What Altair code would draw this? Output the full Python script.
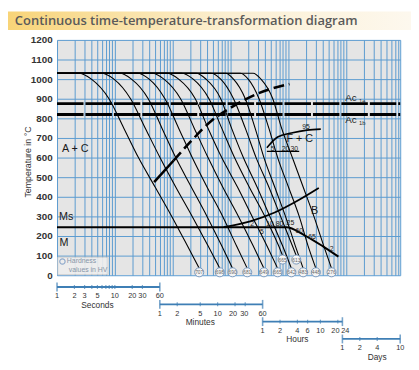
import altair as alt
import pandas as pd

TITLE = "Continuous time-temperature-transformation diagram"

# ---------------- cooling curves (time in s at each temperature step) -------------
curve_temps = [1030, 1030, 1000, 900, 750, 600, 450, 300, 150]
curve_end_temps = [35, 35, 35, 35, 35, 35, 100, 35, 100, 35, 35, 35]
curve_times = [
    [1, 2.36, 3.93, 7.92, 14.3, 25.6, 49.7, 96.5, 180, 288],
    [1, 5.80, 9.64, 18.7, 33.6, 60.4, 113, 218, 409, 654],
    [1, 12.2, 19.4, 37.8, 65.3, 113, 210, 393, 706, 1086],
    [1, 24.6, 39.3, 73.5, 127, 218, 393, 734, 1271, 1952],
    [1, 44.2, 70.6, 137, 236, 409, 734, 1375, 2468, 3794],
    [1, 79.4, 127, 246, 409, 706, 1322, 2373, 4266, 6554],
    [1, 142, 227, 425, 706, 1175, 2112, 3944, 6816, 7970],
    [1, 256, 378, 679, 1044, 1671, 2886, 4794, 7970, 11320],
    [1, 459, 679, 1130, 1805, 2775, 4614, 7367, 11780, 13760],
    [1, 826, 1130, 1805, 2668, 3794, 5826, 8954, 13230, 18100],
    [1, 1485, 2031, 3122, 4614, 6554, 10070, 15470, 21980, 30040],
    [1, 2468, 3373, 5393, 7662, 11780, 18100, 27770, 41030, 56100],
]
hardness = [707, 698, 690, 681, 649, 665, 665, 642, 613, 483, 448, 276]

# ---------------- transformation lines ----------------
ac_temps = [875, 820]
ms_t = [1, 9300, 18800, 41000, 73700]
ms_T = [245, 245, 205, 145, 95]
bs_t = [764, 2194, 5826, 15470, 33760]
bs_T = [245, 275, 320, 385, 445]
cs_t = [47.8, 104]
cs_T = [475, 585]
cd_t = [104, 210, 459, 1086, 2886, 10470]
cd_T = [585, 685, 785, 860, 925, 975]
fc_t = [4266, 6554, 11320, 21140, 36500]
fc_T = [650, 705, 725, 740, 745]
fcb_t = [4266, 15470]
fcb_T = [632, 632]

# ---------------- annotations ----------------
big_text = ["A + C", "Ms", "M", "F + C", "B"]
big_t = [1.22, 1.08, 1.1, 9300, 24700]
big_T = [645, 295, 165, 696, 325]
ac_text = ["Ac", "Ac"]
ac_t = [96900, 96900]
ac_T = [902, 790]
ac_sub = ["1e", "1b"]
ac_sub_t = [168000, 168000]
ac_sub_T = [886, 774]
small_text = ["95", "5", "20", "30", "2", "5", "10", "80", "25", "60", "65", "2"]
small_t = [20300, 5390, 8954, 12720, 2370, 3510, 4790, 7080, 10900, 15500, 25700, 56100]
small_T = [755, 644, 644, 644, 262, 222, 262, 262, 265, 225, 195, 135]

legend_lines = ["Hardness", "values in HV"]
legend_t = [1.48, 1.6]
legend_T = [70, 25]

# ---------------- grid ----------------
grid_temps = list(range(0, 1201, 100))
grid_times = [m * 10 ** k for k in range(6) for m in range(1, 10) if m * 10 ** k < 864000] + [864000]

# ---------------- time scales below ----------------
units = ["Seconds", "Minutes", "Hours", "Days"]
unit_seconds = [1, 60, 3600, 86400]
unit_ticks = [
    [1, 2, 3, 4, 5, 6, 7, 8, 9, 10, 20, 30, 60],
    [1, 2, 5, 10, 20, 30, 60],
    [1, 2, 4, 6, 10, 20, 24],
    [1, 2, 4, 10],
]
unit_labels = [
    [1, 2, 3, 5, 10, 20, 30, 60],
    [1, 2, 5, 10, 20, 30, 60],
    [1, 2, 4, 6, 10, 20, 24],
    [1, 2, 4, 10],
]
unit_name_at = [5, 5, 4, 4]
# small horizontal nudges (px) for crowded scale labels
label_nudge = {("Minutes", 20): -2, ("Minutes", 30): -1, ("Hours", 20): -2.5, ("Hours", 24): 3}

# ---------------- build tables ----------------
rows = []
ends = []
for i, times in enumerate(curve_times):
    temps = curve_temps + [curve_end_temps[i]]
    for j, (t, T) in enumerate(zip(times, temps)):
        rows.append({"c": i, "j": j, "t": t, "T": T})
    ends.append({"t": times[-1], "T": curve_end_temps[i], "hv": str(hardness[i])})
curves = pd.DataFrame(rows)
ends = pd.DataFrame(ends)


def path(ts, Ts):
    return pd.DataFrame({"t": ts, "T": Ts})


tick_rows, label_rows, bar_rows, name_rows = [], [], [], []
for u, f, ticks, labels, nm in zip(units, unit_seconds, unit_ticks, unit_labels, unit_name_at):
    for k, v in enumerate(ticks):
        tick_rows.append({"unit": u, "t": v * f, "end": k in (0, len(ticks) - 1)})
    for v in labels:
        label_rows.append({"unit": u, "t": v * f, "label": str(v), "nudge": label_nudge.get((u, v), 0)})
    bar_rows.append({"unit": u, "t": ticks[0] * f, "t2": ticks[-1] * f})
    name_rows.append({"unit": u, "t": nm * f, "label": u})
ticks_df = pd.DataFrame(tick_rows)
labels_df = pd.DataFrame(label_rows)
bars_df = pd.DataFrame(bar_rows)
names_df = pd.DataFrame(name_rows)

# ---------------- encodings ----------------
BLUE = "#5b9bd0"
xaxis = alt.Axis(values=grid_times, grid=True, gridColor=BLUE, gridWidth=1, labels=False,
                 ticks=False, domain=False, title=None)
yaxis = alt.Axis(values=grid_temps, grid=True, gridColor=BLUE, gridWidth=1, ticks=False,
                 domain=False, format="d", labelFont="Liberation Sans", labelFontSize=10,
                 labelFontWeight="bold", labelColor="#333333", labelPadding=5,
                 title="Temperature in °C", titleFont="Liberation Sans", titleFontSize=9,
                 titleFontWeight="normal", titleColor="#333333", titleX=-30, titleY=124,
                 titleAngle=270, titleAlign="center", titleBaseline="middle")
X = alt.X("t:Q", scale=alt.Scale(type="log", domain=[1, 864000], nice=False), axis=xaxis)
Y = alt.Y("T:Q", scale=alt.Scale(domain=[0, 1200], nice=False), axis=yaxis)
one = pd.DataFrame({"t": [1], "T": [0]})

grad = alt.Gradient(gradient="linear", x1=0, x2=1, y1=0, y2=0,
                    stops=[alt.GradientStop(color="#f8d478", offset=0),
                           alt.GradientStop(color="#fbefd2", offset=0.55),
                           alt.GradientStop(color="#fdf8ee", offset=1)])

band = alt.Chart(one).mark_rect(fill=grad).encode(
    x=alt.value(-50), x2=alt.value(361), y=alt.value(-29), y2=alt.value(-10))
title = alt.Chart(one).mark_text(text=TITLE, font="Open Sans", fontSize=13.2, fontWeight=600,
                                 color="#5a5a5a", align="left", baseline="middle").encode(
    x=alt.value(-43), y=alt.value(-19))

curve_layer = alt.Chart(curves).mark_line(color="black", strokeWidth=1.1, interpolate="monotone").encode(
    x=X, y=Y, detail="c:N", order="j:Q")

ac_df = pd.DataFrame({"t": [1, 1], "t2": [864000, 864000], "T": ac_temps})
ac_layer = alt.Chart(ac_df).mark_rule(color="black", strokeWidth=3, strokeDash=[27, 2]).encode(
    x=X, x2="t2:Q", y=Y)


def line(ts, Ts, width=1.5, dash=None):
    kw = dict(color="black", strokeWidth=width, interpolate="monotone")
    if dash is not None:
        kw["strokeDash"] = dash
    return alt.Chart(path(ts, Ts)).mark_line(**kw).encode(x=X, y=Y)


ms_layer = line(ms_t, ms_T, 2)
bs_layer = line(bs_t, bs_T, 1.8)
cs_layer = line(cs_t, cs_T, 2.6)
cd_layer = line(cd_t, cd_T, 2.6, [11, 5])
fc_layer = line(fc_t, fc_T, 1.6)
fcb_layer = line(fcb_t, fcb_T, 1.2)

big_df = pd.DataFrame({"t": big_t, "T": big_T, "s": big_text})
big_layer = alt.Chart(big_df).mark_text(font="Liberation Sans", fontSize=11, align="left",
                                        baseline="middle", color="#1a1a1a").encode(x=X, y=Y, text="s:N")
ac_lab = alt.Chart(pd.DataFrame({"t": ac_t, "T": ac_T, "s": ac_text})).mark_text(
    font="Liberation Sans", fontSize=10, align="left", baseline="middle", color="#1a1a1a").encode(
    x=X, y=Y, text="s:N")
ac_sublab = alt.Chart(pd.DataFrame({"t": ac_sub_t, "T": ac_sub_T, "s": ac_sub})).mark_text(
    font="Liberation Sans", fontSize=6, align="left", baseline="middle", color="#333").encode(
    x=X, y=Y, text="s:N")
small_layer = alt.Chart(pd.DataFrame({"t": small_t, "T": small_T, "s": small_text})).mark_text(
    font="Liberation Sans", fontSize=7, align="center", baseline="middle", color="#1a1a1a").encode(
    x=X, y=Y, text="s:N")

leg_box = alt.Chart(pd.DataFrame({"t": [1.03], "t2": [7.6], "T": [3], "T2": [92]})).mark_rect(
    fill="#eeeeee", stroke="#c8c8c8", strokeWidth=0.8, opacity=0.9).encode(
    x=X, x2="t2:Q", y=Y, y2="T2:Q")
leg_circle = alt.Chart(pd.DataFrame({"t": [1.24], "T": [70]})).mark_point(
    shape="circle", size=30, color="#6a8fbf", strokeWidth=1.2, filled=False).encode(x=X, y=Y)
leg_text = alt.Chart(pd.DataFrame({"t": legend_t, "T": legend_T, "s": legend_lines})).mark_text(
    font="Liberation Sans", fontSize=7, align="left", baseline="middle", color="#8796a8").encode(
    x=X, y=Y, text="s:N")

hv_circle = alt.Chart(ends).mark_circle(size=85, color="#f4f4f4", stroke="#6c8fb8", strokeWidth=0.9,
                                        opacity=1, yOffset=4).encode(x=X, y=Y)
hv_text = alt.Chart(ends).mark_text(font="Liberation Sans", fontSize=5, color="#666666",
                                    baseline="middle", yOffset=4).encode(x=X, y=Y, text="hv:N")

main = alt.layer(band, title, ac_layer, curve_layer, ms_layer, bs_layer, cs_layer, cd_layer, fc_layer,
                 fcb_layer, big_layer, ac_lab, ac_sublab, small_layer, leg_box, leg_circle, leg_text,
                 hv_circle, hv_text)

YB = alt.Y("unit:N", scale=alt.Scale(type="point", domain=units, range=[252, 305], padding=0), axis=None)
TB = "#3f7fb5"
bar_layer = alt.Chart(bars_df).mark_rule(color=TB, strokeWidth=1.8).encode(x=X, x2="t2:Q", y=YB)
tick_minor = alt.Chart(ticks_df[~ticks_df["end"]]).mark_tick(color=TB, thickness=1.2, size=4).encode(x=X, y=YB)
tick_end = alt.Chart(ticks_df[ticks_df["end"]]).mark_tick(color=TB, thickness=1.6, size=9).encode(x=X, y=YB)
lab_layers = []
for nd in sorted(labels_df["nudge"].unique()):
    lab_layers.append(alt.Chart(labels_df[labels_df["nudge"] == nd]).mark_text(
        font="Liberation Sans", fontSize=7.5, dy=9.5, dx=float(nd), color="#333333").encode(
        x=X, y=YB, text="label:N"))
name_layer = alt.Chart(names_df).mark_text(font="Liberation Sans", fontSize=8.5, dy=18,
                                           color="#333333").encode(x=X, y=YB, text="label:N")
bars = alt.layer(bar_layer, tick_minor, tick_end, *lab_layers, name_layer)

chart = alt.layer(main, bars).resolve_scale(y="independent").properties(
    width=350, height=240, autosize="none",
    padding={"left": 50, "top": 29, "right": 11, "bottom": 88},
    background="white",
).configure_view(fill="#e5e5e5", stroke=None)

chart.save("out.html", embed_options={"renderer": "svg", "actions": False})
